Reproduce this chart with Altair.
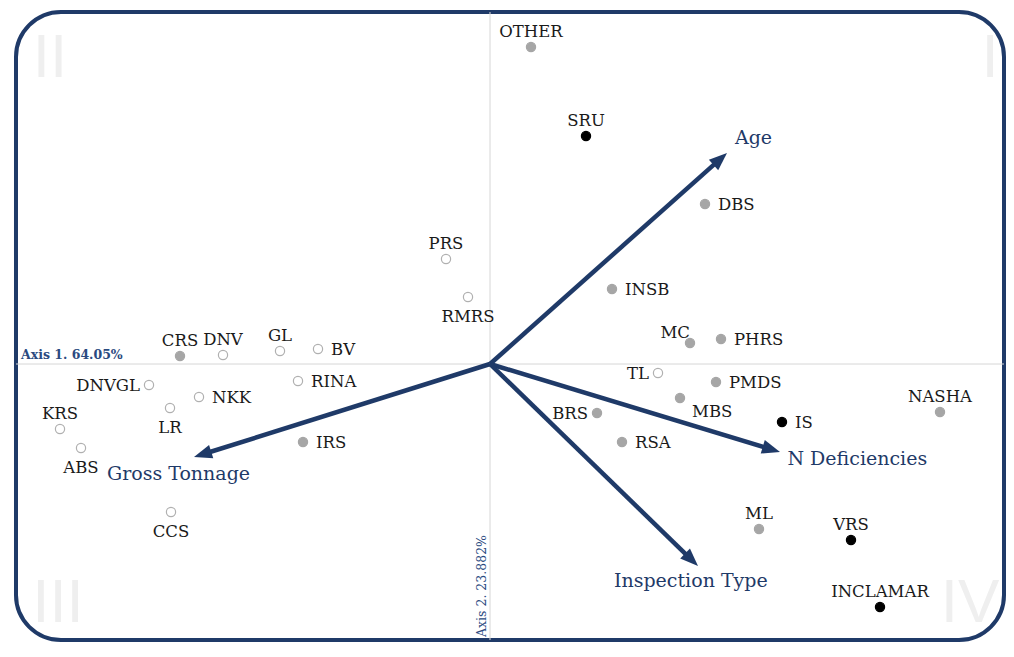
import math
import altair as alt
import pandas as pd

# ---- data (axis units) ----
names = ["OTHER", "SRU", "DBS", "INSB", "MC", "PHRS", "PMDS", "MBS", "IS", "NASHA",
         "BRS", "RSA", "ML", "VRS", "INCLAMAR", "CRS", "IRS",
         "PRS", "RMRS", "DNV", "GL", "BV", "RINA", "DNVGL", "NKK", "LR", "KRS", "ABS", "CCS", "TL"]
axis1 = [0.41, 0.96, 2.15, 1.22, 2.00, 2.31, 2.26, 1.90, 2.92, 4.50,
         1.07, 1.32, 2.69, 3.61, 3.90, -3.10, -1.87,
         -0.44, -0.22, -2.67, -2.10, -1.72, -1.92, -3.41, -2.91, -3.20, -4.30, -4.09, -3.19, 1.68]
axis2 = [3.17, 2.28, 1.60, 0.75, 0.21, 0.25, -0.18, -0.34, -0.58, -0.48,
         -0.49, -0.78, -1.65, -1.76, -2.43, 0.08, -0.78,
         1.05, 0.67, 0.09, 0.13, 0.15, -0.17, -0.21, -0.33, -0.44, -0.65, -0.84, -1.48, -0.09]
group = ["grey", "black", "grey", "grey", "grey", "grey", "grey", "grey", "black", "grey",
         "grey", "grey", "grey", "black", "black", "grey", "grey",
         "open", "open", "open", "open", "open", "open", "open", "open", "open", "open", "open", "open", "open"]
label_side = ["above", "above", "right", "right", "aboveleft", "right", "right", "belowright", "right", "above",
              "left", "right", "above", "above", "above", "above", "right",
              "above", "below", "above", "above", "right", "right", "left", "right", "below", "above", "below", "below", "left"]

variables = ["Age", "Gross Tonnage", "N Deficiencies", "Inspection Type"]
var_axis1 = [2.37, -2.96, 2.90, 2.08]
var_axis2 = [2.11, -0.93, -0.88, -2.02]

axis1_title = "Axis 1. 64.05%"
axis2_title = "Axis 2. 23.882%"
quadrants = ["II", "I", "III", "IV"]

# ---- layout / style ----
W, H = 988, 628
XD = [-4.74, -4.74 + W / 100.0]
YD = [3.52 - H / 100.0, 3.52]
NAVY = "#1f3a68"
SERIF = "DejaVu Serif"
xs = alt.Scale(domain=XD, nice=False, zero=False)
ys = alt.Scale(domain=YD, nice=False, zero=False)

pts = pd.DataFrame({"name": names, "a1": axis1, "a2": axis2, "grp": group, "side": label_side})

heads = []
for n, ax, ay in zip(variables, var_axis1, var_axis2):
    L = math.hypot(ax, ay)
    heads.append({"name": n, "x0": 0.0, "y0": 0.0,
                  "hx": ax - 0.10 * ax / L, "hy": ay - 0.10 * ay / L,
                  "ang": math.degrees(math.atan2(ax, ay)) % 360})
arr = pd.DataFrame(heads)

dummy = pd.DataFrame({"a": [0]})

layers = []

# quadrant numerals
quad_pos = {"II": (34, 65), "I": (974, 65), "III": (42, 610), "IV": (954, 610)}
for q in quadrants:
    px, py = quad_pos[q]
    layers.append(alt.Chart(dummy).mark_text(text=q, font="Liberation Sans", fontSize=62,
                                              color="#efefef", align="center", baseline="alphabetic")
                  .encode(x=alt.value(px), y=alt.value(py)))

# reference lines
layers.append(alt.Chart(pd.DataFrame({"v": [0.0]})).mark_rule(color="#d6d6d6", strokeWidth=1)
              .encode(x=alt.X("v:Q", scale=xs, axis=None)))
layers.append(alt.Chart(pd.DataFrame({"v": [0.0]})).mark_rule(color="#d6d6d6", strokeWidth=1)
              .encode(y=alt.Y("v:Q", scale=ys, axis=None)))

# arrows
layers.append(alt.Chart(arr).mark_rule(color=NAVY, strokeWidth=4.5)
              .encode(x=alt.X("x0:Q", scale=xs, axis=None), y=alt.Y("y0:Q", scale=ys, axis=None),
                      x2="hx:Q", y2="hy:Q"))
layers.append(alt.Chart(arr).mark_point(shape="M0,-1L0.7,0.8L-0.7,0.8Z", filled=True, fill=NAVY,
                                        strokeWidth=0, size=400, opacity=1)
              .encode(x=alt.X("hx:Q", scale=xs, axis=None), y=alt.Y("hy:Q", scale=ys, axis=None),
                      angle=alt.Angle("ang:Q", scale=None)))

# arrow labels
arrow_lab = {"Age": (34, -22, "center"), "Gross Tonnage": (-25, 20, "center"),
             "N Deficiencies": (17, 10, "left"), "Inspection Type": (0, 22, "center")}
for n in variables:
    dx, dy, al = arrow_lab[n]
    layers.append(alt.Chart(arr).transform_filter(alt.datum.name == n)
                  .mark_text(font=SERIF, fontSize=19, color=NAVY, align=al, baseline="middle", dx=dx, dy=dy)
                  .encode(x=alt.X("hx:Q", scale=xs, axis=None), y=alt.Y("hy:Q", scale=ys, axis=None),
                          text="name:N"))

# points
layers.append(alt.Chart(pts).mark_circle(size=85, opacity=1, strokeWidth=1.2)
              .encode(x=alt.X("a1:Q", scale=xs, axis=None), y=alt.Y("a2:Q", scale=ys, axis=None),
                      fill=alt.Fill("grp:N", scale=alt.Scale(domain=["open", "grey", "black"],
                                                             range=["#ffffff", "#a6a6a6", "#000000"]), legend=None),
                      stroke=alt.Stroke("grp:N", scale=alt.Scale(domain=["open", "grey", "black"],
                                                                 range=["#b0b0b0", "#a6a6a6", "#000000"]), legend=None)))

# point labels
side_style = {"above": ("center", 0, -10), "below": ("center", 0, 25), "left": ("right", -9, 6),
              "right": ("left", 13, 6), "aboveleft": ("right", 0, -5), "belowright": ("left", 12, 19)}
for s, (al, dx, dy) in side_style.items():
    layers.append(alt.Chart(pts).transform_filter(alt.datum.side == s)
                  .mark_text(font=SERIF, fontSize=16.5, color="#1a1a1a", align=al, baseline="alphabetic",
                             dx=dx, dy=dy)
                  .encode(x=alt.X("a1:Q", scale=xs, axis=None), y=alt.Y("a2:Q", scale=ys, axis=None),
                          text="name:N"))

# axis titles
layers.append(alt.Chart(pd.DataFrame({"v": [0.0], "t": [axis1_title]}))
              .mark_text(font="DejaVu Serif", fontSize=12.5, fontWeight="bold", color="#2a4a80",
                         align="left", baseline="alphabetic", dy=-5)
              .encode(x=alt.value(5), y=alt.Y("v:Q", scale=ys, axis=None), text="t:N"))
layers.append(alt.Chart(pd.DataFrame({"v": [0.0], "t": [axis2_title]}))
              .mark_text(font="DejaVu Serif", fontSize=12.5, color="#2a4a80", angle=270,
                         align="left", baseline="alphabetic", dy=-4)
              .encode(x=alt.X("v:Q", scale=xs, axis=None), y=alt.value(H - 3), text="t:N"))

chart = alt.layer(*layers).properties(
    width=W, height=H,
    padding={"left": 8, "top": 4, "right": 2, "bottom": 2},
    autosize=alt.AutoSizeParams(type="none"),
    background="white",
).configure_view(stroke=NAVY, strokeWidth=4, cornerRadius=45)

chart.save("out.html", embed_options={"renderer": "svg", "actions": False})
